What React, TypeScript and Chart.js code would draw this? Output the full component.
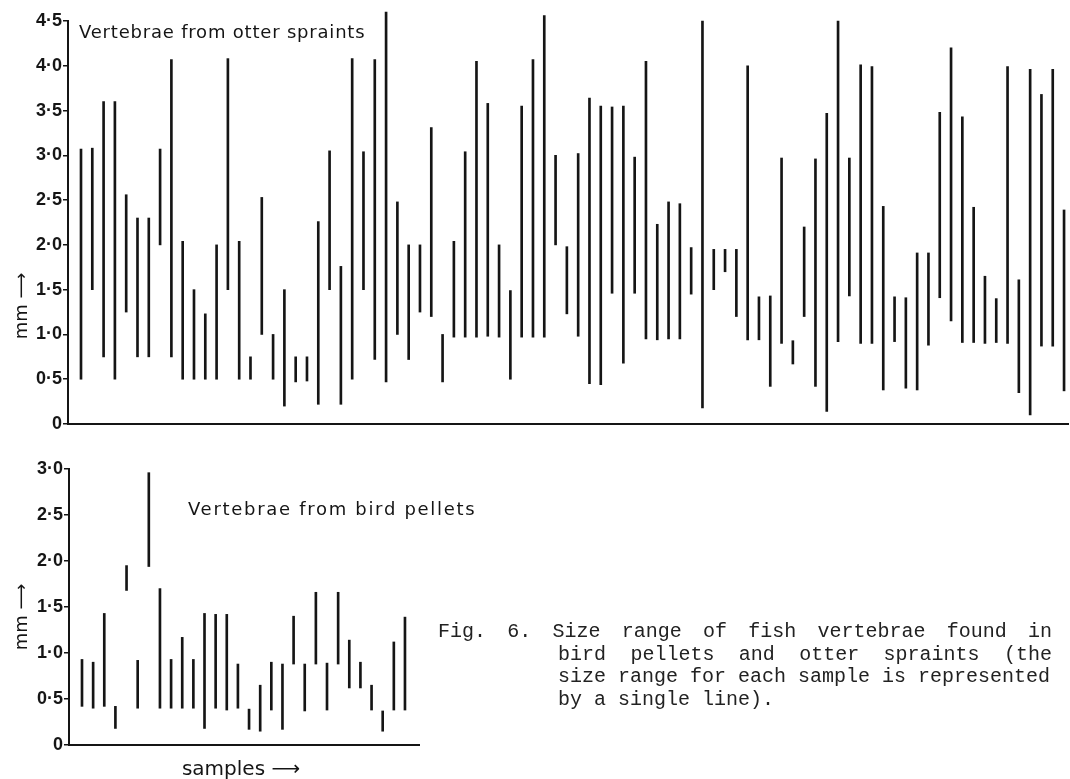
import React, { useEffect, useRef } from "react";
import { Chart, registerables } from "chart.js";

Chart.register(...registerables);

// ---- Data ----
// Otter spraints: size range (mm) of vertebrae per sample
const otterLow = [
  0.5, 1.5, 0.75, 0.5, 1.25, 0.75, 0.75, 2.0, 0.75, 0.5,
  0.5, 0.5, 0.5, 1.5, 0.5, 0.5, 1.0, 0.5, 0.2, 0.47,
  0.48, 0.22, 1.5, 0.22, 0.5, 1.5, 0.72, 0.47, 1.0, 0.72,
  1.25, 1.2, 0.47, 0.97, 0.97, 0.97, 0.98, 0.97, 0.5, 0.97,
  0.97, 0.97, 2.0, 1.23, 0.98, 0.45, 0.44, 1.46, 0.68, 1.46,
  0.95, 0.94, 0.95, 0.95, 1.45, 0.18, 1.5, 1.7, 1.2, 0.94,
  0.94, 0.42, 0.9, 0.67, 1.2, 0.42, 0.14, 0.92, 1.43, 0.9,
  0.9, 0.38, 0.92, 0.4, 0.38, 0.88, 1.41, 1.15, 0.91, 0.91,
  0.9, 0.91, 0.9, 0.35, 0.1, 0.87, 0.87, 0.37,
];
const otterHigh = [
  3.07, 3.08, 3.6, 3.6, 2.56, 2.3, 2.3, 3.07, 4.07, 2.04,
  1.5, 1.23, 2.0, 4.08, 2.04, 0.75, 2.53, 1.0, 1.5, 0.75,
  0.75, 2.26, 3.05, 1.76, 4.08, 3.04, 4.07, 4.6, 2.48, 2.0,
  2.0, 3.31, 1.0, 2.04, 3.04, 4.05, 3.58, 2.0, 1.49, 3.55,
  4.07, 4.56, 3.0, 1.98, 3.02, 3.64, 3.55, 3.54, 3.55, 2.98,
  4.05, 2.23, 2.48, 2.46, 1.97, 4.5, 1.95, 1.95, 1.95, 4.0,
  1.42, 1.43, 2.97, 0.93, 2.2, 2.96, 3.47, 4.5, 2.97, 4.01,
  3.99, 2.43, 1.42, 1.41, 1.91, 1.91, 3.48, 4.2, 3.43, 2.42,
  1.65, 1.4, 3.99, 1.61, 3.96, 3.68, 3.96, 2.39,
];
// Bird pellets
const birdLow = [
  0.42, 0.4, 0.42, 0.18, 1.68, 0.4, 1.94, 0.4, 0.4, 0.4,
  0.4, 0.18, 0.4, 0.38, 0.4, 0.17, 0.15, 0.38, 0.17, 0.88,
  0.37, 0.88, 0.38, 0.88, 0.62, 0.62, 0.38, 0.15, 0.38, 0.38,
];
const birdHigh = [
  0.93, 0.9, 1.43, 0.42, 1.95, 0.92, 2.96, 1.7, 0.93, 1.17,
  0.93, 1.43, 1.42, 1.42, 0.88, 0.39, 0.65, 0.9, 0.88, 1.4,
  0.88, 1.66, 0.89, 1.66, 1.14, 0.9, 0.65, 0.37, 1.12, 1.39,
];
const otterSamples = otterLow.map((_, i) => i + 1);
const birdSamples = birdLow.map((_, i) => i + 1);

const otterTitle = "Vertebrae from otter spraints";
const birdTitle = "Vertebrae from bird pellets";
const yTitle = "mm \u27F6";
const xTitle = "samples \u27F6";
const captionLines = [
  "Fig. 6. Size range of fish vertebrae found in",
  "bird pellets and otter spraints (the",
  "size range for each sample is represented",
  "by a single line).",
];

const INK = "#151515";
const tickFmt = (v: number) => (v === 0 ? "0" : Number(v).toFixed(1).replace(".", "\u00B7"));

type Note = {
  text: string; x: number; y: number; font: string; rotate?: number;
  align?: CanvasTextAlign; baseline?: CanvasTextBaseline; spacing?: string;
};
const makeNotes = (items: Note[]) => ({
  id: "notes",
  afterDraw(chart: any) {
    const ctx = chart.ctx as any;
    items.forEach((it) => {
      ctx.save();
      ctx.font = it.font;
      ctx.fillStyle = INK;
      ctx.textAlign = it.align || "left";
      ctx.textBaseline = it.baseline || "alphabetic";
      if (it.spacing) ctx.letterSpacing = it.spacing;
      ctx.translate(it.x, it.y);
      if (it.rotate) ctx.rotate(it.rotate);
      ctx.fillText(it.text, 0, 0);
      ctx.restore();
    });
  },
});

function makeConfig(
  xs: number[], lo: number[], hi: number[], xMin: number, xMax: number, yMax: number,
  yWidth: number, xHeight: number, pad: any, notes: Note[]
): any {
  return {
    type: "bar",
    data: {
      datasets: [
        {
          data: xs.map((x, i) => ({ x, y: [lo[i], hi[i]] })),
          backgroundColor: INK,
          borderWidth: 0,
          barThickness: 2,
          clip: false,
        },
      ],
    },
    plugins: [makeNotes(notes)],
    options: {
      animation: false,
      responsive: false,
      devicePixelRatio: 1,
      layout: { padding: pad },
      plugins: { legend: { display: false }, tooltip: { enabled: false } },
      scales: {
        x: {
          type: "linear",
          offset: false,
          min: xMin,
          max: xMax,
          ticks: { display: false },
          grid: { display: false, offset: false },
          border: { display: true, color: INK, width: 2 },
          afterFit: (s: any) => { s.height = xHeight; },
        },
        y: {
          min: 0,
          max: yMax,
          ticks: {
            stepSize: 0.5,
            padding: 1,
            color: INK,
            font: { family: "Liberation Sans", size: 18, weight: "bold" },
            callback: (v: any) => tickFmt(v),
          },
          grid: { display: true, drawOnChartArea: false, drawTicks: true, tickLength: 5, color: INK, lineWidth: 1.5 },
          border: { display: true, color: INK, width: 2 },
          afterFit: (s: any) => { s.width = yWidth; },
        },
      },
    },
  };
}

export default function App() {
  const topRef = useRef<HTMLCanvasElement>(null);
  const botRef = useRef<HTMLCanvasElement>(null);

  useEffect(() => {
    const titleFont = "18px 'DejaVu Sans'";
    const c1 = new Chart(
      topRef.current as HTMLCanvasElement,
      makeConfig(otterSamples, otterLow, otterHigh, -0.15, 88.35, 4.5, 68, 16,
        { left: 0, right: 2, top: 21, bottom: 0 },
        [
          { text: otterTitle, x: 79, y: 38, font: titleFont, spacing: "0.8px" },
          { text: yTitle, x: 22, y: 306, font: "18px 'DejaVu Sans'", rotate: -Math.PI / 2, align: "center", baseline: "middle" },
        ])
    );
    const c2 = new Chart(
      botRef.current as HTMLCanvasElement,
      makeConfig(birdSamples, birdLow, birdHigh, -0.167, 31.26, 3.0, 69, 34,
        { left: 0, right: 71, top: 19, bottom: 0 },
        [
          { text: birdTitle, x: 188, y: 65, font: titleFont, spacing: "1.7px" },
          { text: yTitle, x: 22, y: 167, font: "18px 'DejaVu Sans'", rotate: -Math.PI / 2, align: "center", baseline: "middle" },
          { text: xTitle, x: 241, y: 325, font: "20px 'DejaVu Sans'", align: "center" },
        ])
    );
    return () => { c1.destroy(); c2.destroy(); };
  }, []);

  const mono: React.CSSProperties = {
    position: "absolute",
    fontFamily: "'Liberation Mono', 'DejaVu Sans Mono', monospace",
    fontSize: 20,
    lineHeight: "22px",
    color: "#222",
    margin: 0,
  };

  return (
    <div style={{ position: "absolute", left: 0, top: 0, width: 1070, height: 779, background: "#fff", overflow: "hidden" }}>
      <canvas ref={topRef} width={1070} height={440} style={{ position: "absolute", left: 0, top: 0, width: 1070, height: 440 }} />
      <canvas ref={botRef} width={490} height={329} style={{ position: "absolute", left: 0, top: 450, width: 490, height: 329 }} />
      <div style={{ ...mono, left: 438, top: 621, width: 614, textAlign: "justify", textAlignLast: "justify" as any }}>{captionLines[0]}</div>
      <div style={{ ...mono, left: 558, top: 644, width: 494, textAlign: "justify", textAlignLast: "justify" as any }}>{captionLines[1]}</div>
      <div style={{ ...mono, left: 558, top: 666, whiteSpace: "pre" }}>{captionLines[2]}</div>
      <div style={{ ...mono, left: 558, top: 689, whiteSpace: "pre" }}>{captionLines[3]}</div>
    </div>
  );
}
